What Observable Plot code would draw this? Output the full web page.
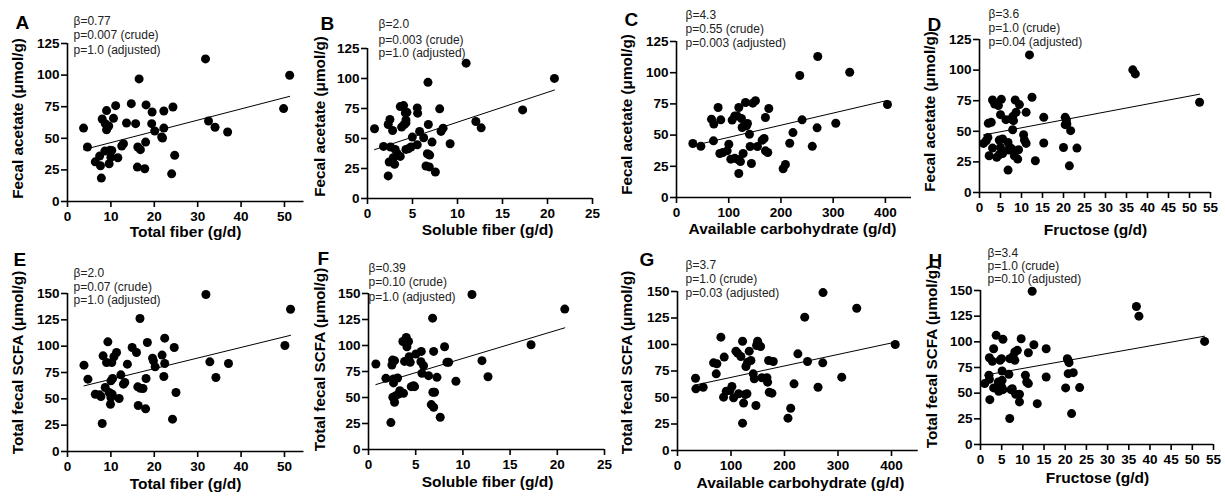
<!DOCTYPE html>
<html><head><meta charset="utf-8">
<script src="https://cdn.jsdelivr.net/npm/d3@7"></script>
<script src="https://cdn.jsdelivr.net/npm/@observablehq/plot@0.6"></script>
<style>
body{margin:0;background:#fff;}
#chart{position:relative;width:1225px;height:500px;overflow:hidden;background:#fff;}
#chart svg{position:absolute;overflow:visible;}
</style></head><body><div id="chart"></div>
<script>
// ---------- DATA ----------
const xTitles = ["Total fiber (g/d)", "Soluble fiber (g/d)", "Available carbohydrate (g/d)", "Fructose (g/d)"];
const yTitles = ["Fecal acetate (μmol/g)", "Total fecal SCFA (μmol/g)"];
const ticksFiber = [0, 10, 20, 30, 40, 50];
const ticksSoluble = [0, 5, 10, 15, 20, 25];
const ticksCarb = [0, 100, 200, 300, 400];
const ticksFructose = [0, 5, 10, 15, 20, 25, 30, 35, 40, 45, 50, 55];
const ticksAcetate = [0, 25, 50, 75, 100, 125];
const ticksSCFA = [0, 25, 50, 75, 100, 125, 150];

const annA = ["β=0.77", "p=0.007 (crude)", "p=1.0 (adjusted)"];
const annB = ["β=2.0", "p=0.003 (crude)", "p=1.0 (adjusted)"];
const annC = ["β=4.3", "p=0.55 (crude)", "p=0.003 (adjusted)"];
const annD = ["β=3.6", "p=1.0 (crude)", "p=0.04 (adjusted)"];
const annE = ["β=2.0", "p=0.07 (crude)", "p=1.0 (adjusted)"];
const annF = ["β=0.39", "p=0.10 (crude)", "p=1.0 (adjusted)"];
const annG = ["β=3.7", "p=1.0 (crude)", "p=0.03 (adjusted)"];
const annH = ["β=3.4", "p=1.0 (crude)", "p=0.10 (adjusted)"];

const aX = [3.7,4.6,6.4,7.4,7.6,7.8,8.0,8.7,9.0,9.0,8.6,9.5,10.2,10.0,9.6,10.6,11.1,9.8,11.6,12.5,12.9,13.6,14.7,15.7,16.5,16.1,16.2,16.8,17.8,18.1,18.0,19.5,19.4,20.1,21.7,21.9,22.2,22.2,24.3,24.0,24.7,31.8,32.5,34.0,36.9,49.8,51.2];
const aY = [58.1,43.1,31.4,35.9,28.3,18.5,65.3,61.6,71.9,56.8,39.9,59.7,40.4,35.1,29.9,65.8,75.8,40.6,34.6,43.9,45.7,62.1,77.4,61.6,97.0,27.2,43.1,41.0,25.9,76.4,47.0,70.8,61.6,55.8,51.0,50.2,71.6,58.1,74.8,21.9,36.5,112.8,63.7,58.7,55.0,73.5,99.9];
const aFitX = [3.7, 51.2], aFitY = [41.0, 83.2];

const bX = [0.78,1.78,2.30,2.30,2.49,2.41,2.56,2.79,2.79,2.86,3.01,3.08,3.31,3.64,3.64,3.79,4.01,4.09,4.20,4.27,4.38,4.27,4.27,4.53,4.83,4.98,5.53,5.53,5.57,5.79,6.24,6.50,6.72,6.76,6.65,6.91,6.87,7.17,7.54,8.02,8.17,8.40,9.18,10.96,12.04,12.63,17.24,20.77];
const bY = [58.1,43.4,18.8,61.7,65.8,30.4,42.9,56.7,30.4,34.0,28.5,40.9,37.3,35.1,76.6,59.5,77.4,61.7,71.3,65.5,71.8,63.0,40.9,41.5,42.9,51.2,44.8,75.5,71.1,55.9,50.6,27.1,96.8,61.7,37.3,36.2,26.3,47.0,22.1,74.7,55.9,58.6,45.6,112.8,64.2,58.9,73.8,100.1];
const bFitX = [0.78, 20.77], bFitY = [40.7, 90.4];

const cX = [31.3,46.6,67.0,71.5,70.8,79.7,84.8,83.0,88.7,97.0,100.2,104.0,106.5,111.6,116.1,111.6,119.3,118.0,119.3,122.5,124.4,125.7,127.6,130.8,132.1,134.0,135.9,139.7,141.0,143.5,146.1,151.2,155.0,164.0,167.8,170.3,170.3,174.8,176.7,204.2,208.6,216.8,223.0,236.0,240.5,260.0,269.2,270.5,305.0,331.7,404.0];
const cY = [43.3,41.1,62.8,58.8,45.4,72.1,62.2,35.3,36.1,37.4,42.7,30.7,62.0,65.4,65.4,31.5,72.1,30.4,19.2,28.8,63.3,56.1,35.3,58.2,76.1,57.4,59.3,50.7,40.9,27.2,75.6,77.5,40.9,45.9,47.3,64.1,37.4,36.1,71.3,23.0,26.4,43.5,52.0,97.8,62.2,41.0,55.8,113.0,59.5,100.4,74.5];
const cFitX = [31.3, 404], cFitY = [41.5, 77.8];

const dX = [0.95,1.6,2.0,2.1,2.3,2.8,3.1,3.1,3.6,4.1,4.5,4.7,5.0,5.0,5.2,5.5,5.5,4.7,6.3,6.8,6.8,7.2,6.9,7.6,7.9,8.1,7.9,7.7,8.5,8.7,8.3,9.1,9.3,9.5,10.5,10.7,11.1,11.1,11.9,12.5,13.3,15.3,15.3,20.0,20.4,20.4,20.7,20.8,21.4,21.7,23.2,36.5,37.1,52.4];
const dY = [40.1,42.3,45.0,56.5,30.0,57.3,75.6,36.3,72.3,28.7,71.0,42.8,63.6,36.8,76.1,43.7,31.9,30.8,59.5,18.3,40.9,36.8,34.7,60.0,62.0,58.7,51.3,35.5,75.6,65.5,30.0,27.3,34.9,71.8,47.2,42.8,40.1,65.5,112.4,77.8,25.9,61.4,40.4,36.8,61.4,55.4,59.3,56.0,21.8,50.5,36.3,100.2,96.9,73.7];
const dFitX = [0.95, 52.4], dFitY = [47.0, 80.3];

const eX = [3.8,4.7,6.4,7.4,7.7,8.0,8.2,8.7,9.0,9.3,9.6,10.0,9.9,10.0,10.2,10.4,10.3,10.7,11.3,11.9,12.3,12.9,13.2,13.8,14.9,15.9,16.3,16.2,16.7,16.8,17.4,18.0,18.4,18.1,19.6,19.8,20.2,21.8,22.2,22.4,22.4,24.6,24.2,25.0,31.9,32.8,34.2,37.1,50.1,51.4];
const eY = [82.0,68.7,54.4,53.8,52.2,26.6,90.8,60.8,84.5,104.1,56.0,51.3,44.9,67.1,84.5,69.3,54.4,89.9,94.0,50.3,72.8,63.9,65.5,82.9,98.7,94.0,43.7,61.4,126.3,60.1,59.8,40.5,103.5,69.3,88.6,86.1,80.4,91.5,71.2,83.5,107.6,98.7,30.7,56.0,149.0,85.1,70.3,83.5,100.6,135.1];
const eFitX = [3.8, 51.4], eFitY = [62.3, 110.3];

const fX = [0.78,1.84,2.37,2.48,2.55,2.58,2.65,2.65,2.76,2.76,2.90,3.08,3.18,3.32,3.64,3.71,3.82,4.00,4.07,4.24,4.31,4.42,4.53,4.77,4.88,5.02,5.59,5.55,5.66,5.83,6.36,6.65,6.79,6.90,6.82,7.00,6.90,7.25,7.60,8.06,8.31,8.49,9.26,10.96,12.02,12.66,17.22,20.79];
const fY = [82.2,68.4,25.9,81.2,86.0,50.2,64.0,67.8,45.4,85.4,51.8,68.8,53.4,56.6,103.9,54.0,84.7,107.8,98.8,103.9,89.2,83.8,60.4,61.4,60.4,91.8,94.3,84.4,73.2,80.6,71.0,43.2,126.3,94.3,55.0,55.0,40.6,69.4,31.0,98.8,83.8,83.8,65.6,149.0,85.4,70.0,100.7,135.0];
const fFitX = [0.78, 20.79], fFitY = [62.4, 117.0];

const gX = [33.7,34.3,48.0,67.4,73.6,72.4,81.1,86.1,87.3,91.1,97.9,101.7,104.8,109.2,112.3,114.2,118.5,121.6,123.5,121.6,126.6,127.9,129.8,131.0,134.1,137.2,141.6,143.5,146.6,147.8,149.7,155.3,157.8,167.2,168.4,170.3,171.6,176.5,179.0,206.5,211.6,217.8,225.0,237.8,243.0,262.7,271.5,272.0,307.0,335.0,407.0];
const gY = [68.2,58.2,59.7,82.7,81.8,72.3,106.9,50.3,88.1,56.0,56.6,60.4,49.7,93.7,91.8,53.5,88.7,103.1,44.7,25.8,52.8,79.2,53.5,83.3,93.7,84.9,72.3,67.6,42.5,99.1,103.1,98.1,68.6,68.6,64.5,84.9,55.0,54.1,84.0,30.5,39.9,62.9,91.2,125.8,84.0,59.7,82.7,149.0,69.2,134.2,100.0];
const gFitX = [33.7, 407], gFitY = [61.8, 102.2];

const hX = [1.0,2.0,2.1,2.2,2.1,2.8,3.1,3.1,3.7,4.2,4.3,4.6,4.96,5.3,5.1,5.1,5.0,5.3,6.7,6.9,6.9,7.2,7.5,7.7,8.1,8.1,8.7,8.3,9.2,9.2,9.6,10.6,10.9,11.3,11.3,12.2,12.6,13.4,15.5,15.5,20.1,20.5,20.7,20.9,20.7,21.5,21.9,23.4,36.8,37.4,52.9];
const hY = [59.3,67.4,63.5,43.7,84.5,81.0,93.3,55.1,106.3,60.9,51.8,82.0,83.6,102.4,71.6,62.5,56.1,53.4,68.4,25.3,83.6,53.4,54.4,85.8,82.0,90.1,91.7,48.9,48.9,41.5,103.0,67.4,60.9,59.3,89.4,149.3,97.2,39.8,93.3,65.8,55.1,83.6,82.0,79.7,69.0,30.1,70.0,55.4,134.4,125.0,100.4];
const hFitX = [1.0, 52.9], hFitY = [67.5, 105.5];

// ---------- LAYOUT (pixel geometry of each panel) ----------
const layout = [
  {letter:"A", row:0, xL:67,  xR:303.5, yT:43,  yB:201, xMax:54.5, letterPos:[15,22],  annX:73,  annY:[21,35,50],   yTitlePos:[18,118],  xTitlePos:[185,232]},
  {letter:"B", row:0, xL:367, xR:592,   yT:48,  yB:198, xMax:25,   letterPos:[320,23.5],annX:378, annY:[23.3,39.3,52.7], yTitlePos:[320,116], xTitlePos:[487,230]},
  {letter:"C", row:0, xL:676, xR:911,   yT:41,  yB:197, xMax:450,  letterPos:[624,19],  annX:685, annY:[15,29,43],   yTitlePos:[627,114], xTitlePos:[792,229]},
  {letter:"D", row:0, xL:979, xR:1210,  yT:39,  yB:192, xMax:55,   letterPos:[927,24],  annX:988, annY:[14,28,42],   yTitlePos:[930,111], xTitlePos:[1095,230]},
  {letter:"E", row:1, xL:67,  xR:303.5, yT:293, yB:451, xMax:54.5, letterPos:[13,259],  annX:73,  annY:[273,287,300], yTitlePos:[18,362], xTitlePos:[185,484]},
  {letter:"F", row:1, xL:368, xR:604,   yT:293, yB:449, xMax:25,   letterPos:[317,258.5],annX:368, annY:[268,282,297], yTitlePos:[320,359], xTitlePos:[487,482]},
  {letter:"G", row:1, xL:677, xR:917.75,yT:291, yB:450, xMax:450,  letterPos:[639,259], annX:685, annY:[265,279,293], yTitlePos:[627,362], xTitlePos:[800,483]},
  {letter:"H", row:1, xL:980, xR:1213,  yT:290, yB:444, xMax:55,   letterPos:[928,260.5],annX:987, annY:[253,266,279], yTitlePos:[932,356], xTitlePos:[1097,478]}
];

const panels = [
  {xs:aX, ys:aY, fx:aFitX, fy:aFitY, ann:annA, xTitle:xTitles[0], yTitle:yTitles[0], xTicks:ticksFiber,    yTicks:ticksAcetate},
  {xs:bX, ys:bY, fx:bFitX, fy:bFitY, ann:annB, xTitle:xTitles[1], yTitle:yTitles[0], xTicks:ticksSoluble,  yTicks:ticksAcetate},
  {xs:cX, ys:cY, fx:cFitX, fy:cFitY, ann:annC, xTitle:xTitles[2], yTitle:yTitles[0], xTicks:ticksCarb,     yTicks:ticksAcetate},
  {xs:dX, ys:dY, fx:dFitX, fy:dFitY, ann:annD, xTitle:xTitles[3], yTitle:yTitles[0], xTicks:ticksFructose, yTicks:ticksAcetate},
  {xs:eX, ys:eY, fx:eFitX, fy:eFitY, ann:annE, xTitle:xTitles[0], yTitle:yTitles[1], xTicks:ticksFiber,    yTicks:ticksSCFA},
  {xs:fX, ys:fY, fx:fFitX, fy:fFitY, ann:annF, xTitle:xTitles[1], yTitle:yTitles[1], xTicks:ticksSoluble,  yTicks:ticksSCFA},
  {xs:gX, ys:gY, fx:gFitX, fy:gFitY, ann:annG, xTitle:xTitles[2], yTitle:yTitles[1], xTicks:ticksCarb,     yTicks:ticksSCFA},
  {xs:hX, ys:hY, fx:hFitX, fy:hFitY, ann:annH, xTitle:xTitles[3], yTitle:yTitles[1], xTicks:ticksFructose, yTicks:ticksSCFA}
];

const FONT = '"Liberation Sans", Arial, Helvetica, sans-serif';
const chart = document.getElementById("chart");

panels.forEach((P, k) => {
  const L = layout[k];
  const ml = 67, mr = 8, H = 250;
  const svgLeft = L.xL - ml;
  const svgTop = L.row * 250;
  const width = (L.xR - L.xL) + ml + mr;
  const mt = L.yT - svgTop, mb = svgTop + H - L.yB;
  const pts = P.xs.map((x, i) => ({x, y: P.ys[i]}));
  const fit = P.fx.map((x, i) => ({x, y: P.fy[i]}));
  const fcx = (L.xL + L.xR) / 2, fcy = (L.yT + L.yB) / 2;
  const yMax = P.yTicks[P.yTicks.length - 1];

  const annMarks = P.ann.map((t, i) => Plot.text([t], {
    text: d => d, frameAnchor: "top-left", dx: L.annX - L.xL, dy: L.annY[i] - L.yT,
    textAnchor: "start", lineAnchor: "middle", fontSize: 12, fontWeight: "normal", fill: "#222"
  }));

  const plot = Plot.plot({
    width, height: H,
    marginLeft: ml, marginRight: mr, marginTop: mt, marginBottom: mb,
    style: {background: "none", fontFamily: FONT, overflow: "visible", color: "#000"},
    x: {domain: [0, L.xMax]},
    y: {domain: [0, yMax]},
    marks: [
      Plot.ruleY([0], {stroke: "#000", strokeWidth: 1.6}),
      Plot.ruleX([0], {stroke: "#000", strokeWidth: 1.6}),
      Plot.axisX({ticks: P.xTicks, tickSize: 6, tickPadding: 4, fontSize: 13.5, fontWeight: "bold", strokeWidth: 1.6, label: null, fill: "#000"}),
      Plot.axisY({ticks: P.yTicks, tickSize: 6, tickPadding: 2, fontSize: 13.5, fontWeight: "bold", strokeWidth: 1.6, label: null, fill: "#000"}),
      Plot.line(fit, {x: "x", y: "y", stroke: "#000", strokeWidth: 1}),
      Plot.dot(pts, {x: "x", y: "y", r: 4.5, fill: "#000", stroke: "none"}),
      Plot.text([L.letter], {text: d => d, frameAnchor: "top-left", dx: L.letterPos[0] - L.xL, dy: L.letterPos[1] - L.yT,
        textAnchor: "start", lineAnchor: "middle", fontSize: 19, fontWeight: "bold", fill: "#000"}),
      Plot.text([P.yTitle], {text: d => d, frameAnchor: "left", dx: L.yTitlePos[0] - L.xL, dy: L.yTitlePos[1] - fcy,
        rotate: -90, textAnchor: "middle", lineAnchor: "middle", fontSize: 15.3, fontWeight: "bold", fill: "#000"}),
      Plot.text([P.xTitle], {text: d => d, frameAnchor: "bottom", dx: L.xTitlePos[0] - fcx, dy: L.xTitlePos[1] - L.yB,
        textAnchor: "middle", lineAnchor: "middle", fontSize: 15.5, fontWeight: "bold", fill: "#000"}),
      ...annMarks
    ]
  });
  plot.style.left = svgLeft + "px";
  plot.style.top = svgTop + "px";
  chart.appendChild(plot);
});
</script>
</body></html>
